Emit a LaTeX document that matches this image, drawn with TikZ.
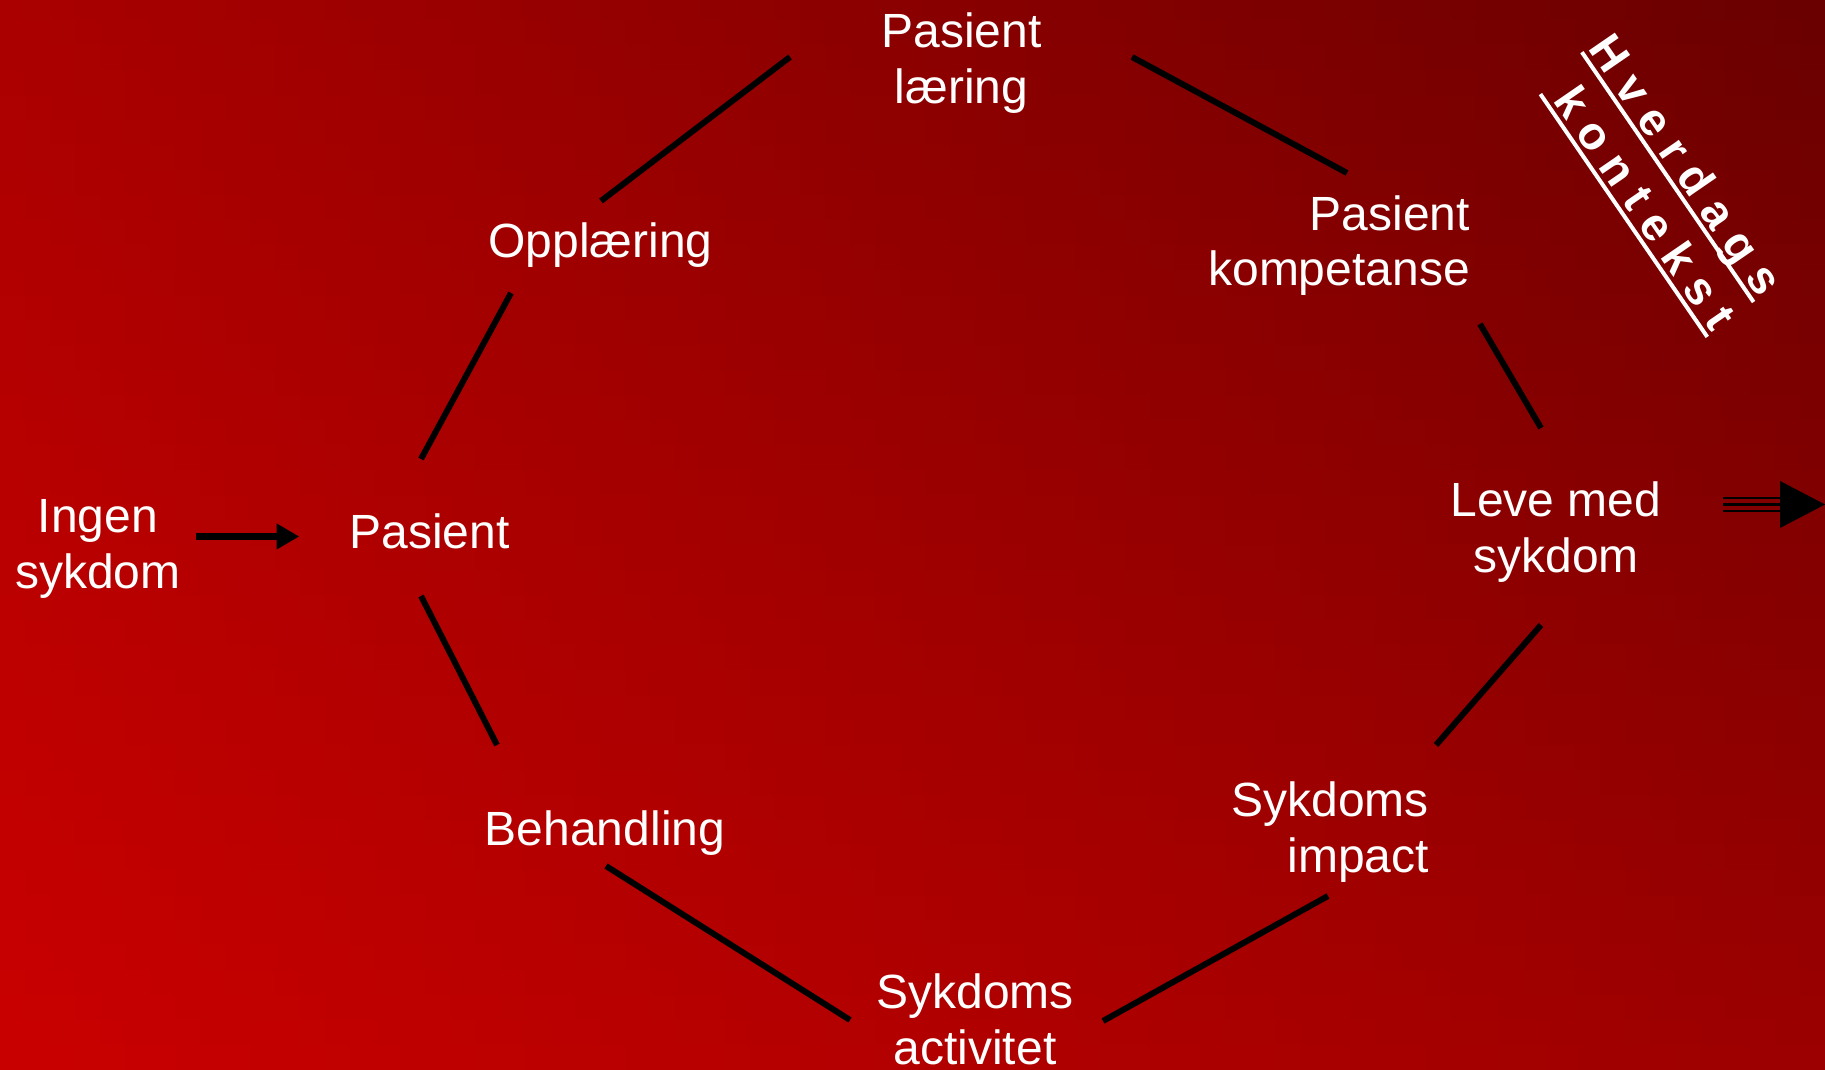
\documentclass[tikz,border=0pt]{standalone}
\usepackage{fontspec}
\setmainfont{Liberation Sans}
\usetikzlibrary{arrows.meta}
\newcommand\lblfont{\fontsize{48}{55.5}\selectfont}
\newcommand\hvfont{\fontsize{46}{52}\selectfont\bfseries}
\newcommand\lsp{\kern13.3pt}
\begin{document}
\begin{tikzpicture}[x=1pt,y=1pt,
  lbl/.style={text=white, font=\lblfont, inner sep=0pt, align=center},
  link/.style={line width=6pt, black},
  hvtext/.style={text=white, font=\hvfont, inner sep=0pt, text depth=6pt, rotate=-55.5, anchor=base west},
  ul/.style={white, line width=4pt}]
\useasboundingbox (0,0) rectangle (1825,1070);
% background: bright red at bottom left, dark red at top right
\begin{scope}
  \clip (0,0) rectangle (1825,1070);
  \foreach \i in {0,...,72}{
    \foreach \j in {0,...,42}{
      \pgfmathsetmacro\X{(\i+0.5)/73}
      \pgfmathsetmacro\Y{(\j+0.5)/42.8}
      \pgfmathtruncatemacro\R{202.5-46*\X-32*\Y-19*\X*\Y}
      \definecolor{cellc}{RGB}{\R,0,0}
      \fill[cellc] (\i*25,\j*25) rectangle (\i*25+25.6,\j*25+25.6);
    }
  }
\end{scope}

% labels (base anchor = baseline of the last line)
\node[lbl, anchor=base] (laering) at (961.4,966.5) {Pasient\\læring};
\node[lbl, anchor=base] (oppl) at (600.6,812) {Opplæring};
\node[lbl, anchor=base east, align=right] (komp) at (1470,784) {Pasient\\kompetanse};
\node[lbl, anchor=base] (leve) at (1556,497.5) {Leve med\\sykdom};
\node[lbl, anchor=base] (ingen) at (97.8,481.5) {Ingen\\sykdom};
\node[lbl, anchor=base] (pasient) at (429.5,521.5) {Pasient};
\node[lbl, anchor=base] (behand) at (605,224) {Behandling};
\node[lbl, anchor=base] (aktiv) at (975,5.5) {Sykdoms\\activitet};
\node[lbl, anchor=base east, align=right] (impact) at (1429,197.5) {Sykdoms\\impact};

% cycle connectors
\coordinate (c1a) at (601,869);  \coordinate (c1b) at (790,1013);
\coordinate (c2a) at (1132,1013); \coordinate (c2b) at (1347,897);
\coordinate (c3a) at (1480,746); \coordinate (c3b) at (1541,642);
\coordinate (c4a) at (1541,445); \coordinate (c4b) at (1436,325);
\coordinate (c5a) at (1328,174); \coordinate (c5b) at (1103,49);
\coordinate (c6a) at (850,50);   \coordinate (c6b) at (606,204);
\coordinate (c7a) at (497,325);  \coordinate (c7b) at (421,474);
\coordinate (c8a) at (421,611);  \coordinate (c8b) at (511,777);
\draw[link] (c1a) -- (c1b);
\draw[link] (c2a) -- (c2b);
\draw[link] (c3a) -- (c3b);
\draw[link] (c4a) -- (c4b);
\draw[link] (c5a) -- (c5b);
\draw[link] (c6a) -- (c6b);
\draw[link] (c7a) -- (c7b);
\draw[link] (c8a) -- (c8b);

% arrow Ingen sykdom -> Pasient
\path ([xshift=-50pt,yshift=12pt]pasient.base west) coordinate (atip);
\draw[line width=7.5pt, -{Triangle[length=22.6pt,width=24.4pt]}] ([xshift=15pt]ingen.east |- atip) -- (atip);

% outgoing striped arrow
\coordinate (r1) at (1723,565.5);
\coordinate (r2) at (1780,565.5);
\foreach \dy in {-6.5,0,6.5}{
  \draw[line width=2.8pt] ([yshift=\dy pt]r1) -- ([yshift=\dy pt]r2);
}
\fill ([yshift=23.5pt]r2) -- ([yshift=-23.5pt]r2) -- ([xshift=45pt]r2) -- cycle;

% Hverdags kontekst
\node[hvtext] (hv) at (1587,1021.3) {H\lsp v\lsp e\lsp r\lsp d\lsp a\lsp g\lsp s};
\draw[ul] (hv.south west) -- (hv.south east);
\node[hvtext] (kt) at (1545.5,979.4) {\kern12pt k\lsp o\lsp n\lsp t\lsp e\lsp k\lsp s\lsp t};
\draw[ul] (kt.south west) -- (kt.south east);
\end{tikzpicture}
\end{document}
